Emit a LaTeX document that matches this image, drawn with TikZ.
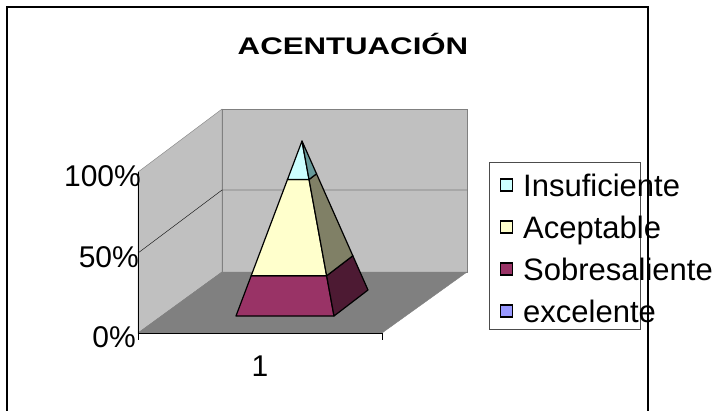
\documentclass[tikz,border=0pt]{standalone}
\usepackage{fontspec}
\setmainfont{Liberation Sans}
\usetikzlibrary{calc,positioning}
\definecolor{wallGray}{HTML}{C0C0C0}
\definecolor{floorGray}{HTML}{808080}
\definecolor{cyanLight}{HTML}{CCFFFF}
\definecolor{cyanDark}{HTML}{669999}
\definecolor{yellowLight}{HTML}{FFFFCC}
\definecolor{yellowDark}{HTML}{808066}
\definecolor{magentaMid}{HTML}{993366}
\definecolor{magentaDark}{HTML}{4D1A33}
\definecolor{blueLight}{HTML}{9999FF}

\begin{document}
\begin{tikzpicture}[x=1pt,y=-1pt,
		axislabel/.style={font=\fontsize{30}{36}\selectfont, inner sep=0pt},
		legendtext/.style={font=\fontsize{31}{37}\selectfont, inner sep=0pt, anchor=base west},
		legendkey/.style={draw=black, line width=1.2pt, minimum size=12pt, inner sep=0pt},
		face/.style={draw=black, line width=1.2pt, line join=round}]
			\useasboundingbox (0,0) rectangle (720,410);

			% Walls and floor of the chart
			\filldraw[fill=wallGray, draw=floorGray] (138,172) -- (222,109) -- (222,272) -- (138,333) -- cycle; % left wall
			\filldraw[fill=wallGray, draw=floorGray] (222,109) -- (467,109) -- (467,272) -- (222,272) -- cycle; % back wall
			\filldraw[fill=floorGray, draw=floorGray] (138,333) -- (222,272) -- (467,272) -- (382,333) -- cycle; % floor
			\draw[thin] (138,253) -- (222,190) -- (467,190); % 50% gridline

			% Axes
			\draw[line width=0.9pt] (138,172) -- (138,340);
			\draw[line width=0.9pt] (138,333) -- (382,333) -- (382,340);

			% Labels for the value axis
			\node[axislabel, anchor=east] (v100) at (141,176) {100\%};
			\node[axislabel, anchor=east] (v50) at (139,257) {50\%};
			\node[axislabel, anchor=east] (v0) at (136,337) {0\%};
			\node[axislabel] (cat1) at (260,366) {1};

			% Pyramid
			\coordinate (apex) at (302,141);
			\coordinate (fl) at (236,316);
			\coordinate (fr) at (334,316);
			\coordinate (br) at (368,290);
			\fill[magentaMid, face] (fl) -- (fr) -- ($(fr)!.23!(apex)$) -- ($(fl)!.23!(apex)$) -- cycle;
			\fill[magentaDark, face] (fr) -- (br) -- ($(br)!.23!(apex)$) -- ($(fr)!.23!(apex)$) -- cycle;
			\fill[yellowLight, face] ($(fl)!.23!(apex)$) -- ($(fr)!.23!(apex)$) -- ($(fr)!.78!(apex)$) -- ($(fl)!.78!(apex)$) -- cycle;
			\fill[yellowDark, face] ($(fr)!.23!(apex)$) -- ($(br)!.23!(apex)$) -- ($(br)!.78!(apex)$) -- ($(fr)!.78!(apex)$) -- cycle;
			\fill[cyanLight, face] ($(fl)!.78!(apex)$) -- ($(fr)!.78!(apex)$) -- (apex) -- cycle;
			\fill[cyanDark, face] ($(fr)!.78!(apex)$) -- ($(br)!.78!(apex)$) -- (apex) -- cycle;

			% Title
			\node[font=\bfseries\fontsize{24}{28}\selectfont, anchor=base, inner sep=0pt] (title) at (353,54) {\scalebox{1.3}[1]{ACENTUACIÓN}};

			% Legend
			\draw[draw=black!70, line width=0.8pt] (489,162) rectangle (640,329);
			\foreach \y/\name/\col [count=\i] in {185/Insuficiente/cyanLight, 227/Aceptable/yellowLight, 269/Sobresaliente/magentaMid, 311/excelente/blueLight}
			{
				\node[legendkey, fill=\col] (key\i) at (506.5,\y) {};
				\node[legendtext] (entry\i) at (523,\y+11) {\name};
			}

			% Outer frame
			\draw[line width=1.6pt] (7,415) -- (7,7) -- (648,7) -- (648,415);
		\end{tikzpicture}
\end{document}
